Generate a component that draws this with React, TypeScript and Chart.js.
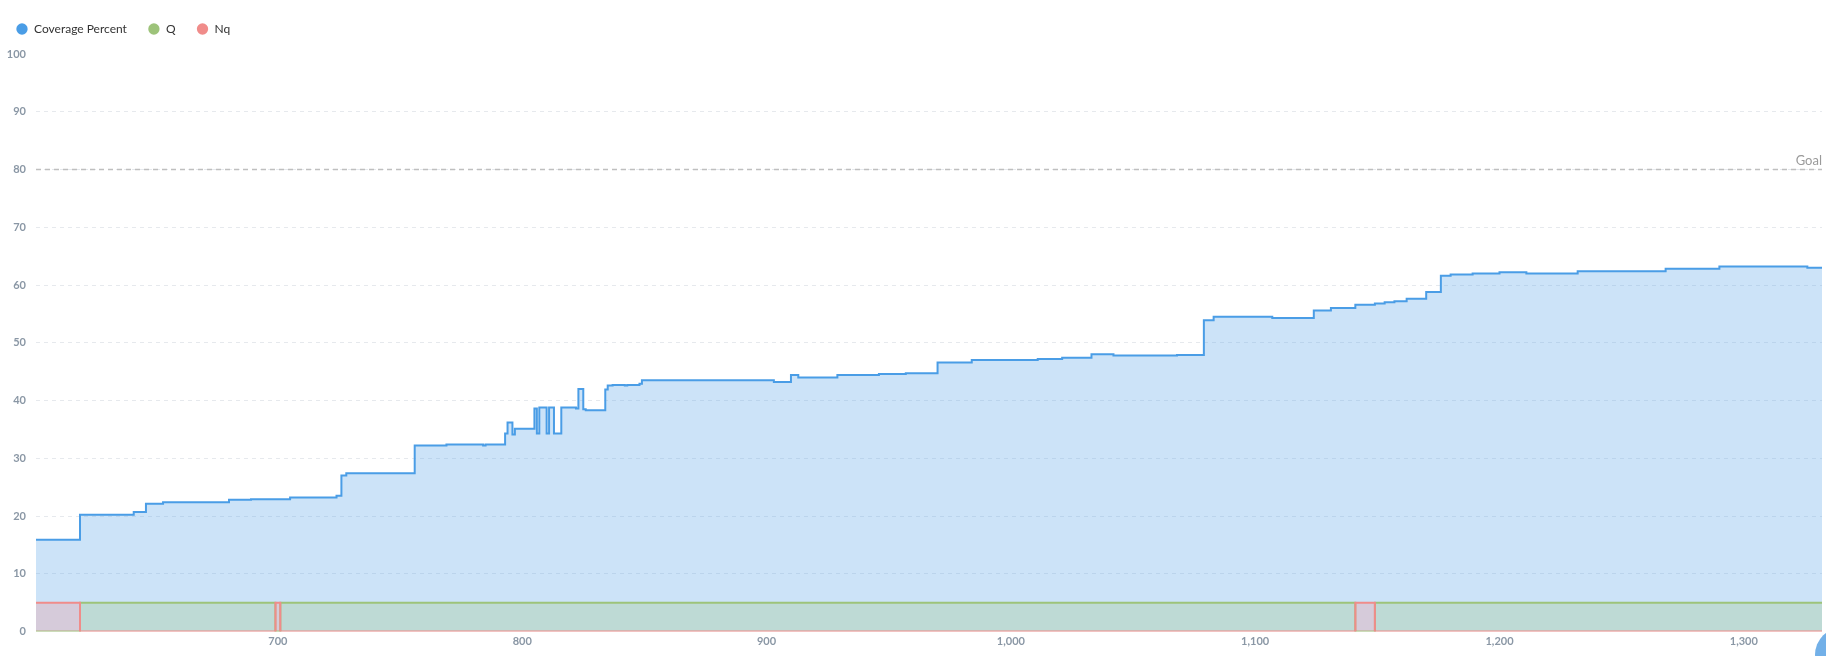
import React, { useEffect, useRef } from 'react';
import { Chart, registerables } from 'chart.js';

Chart.register(...registerables);

// Build numbers where the coverage value changes (stepped line)
const builds = [601, 619, 641, 646, 653, 680, 689, 705, 724, 726, 728, 756, 769, 784, 785, 793, 794, 796, 797, 805, 806, 807, 810, 811, 813, 816, 822, 823, 825, 826, 834, 835, 837, 842, 843, 848, 849, 903, 910, 913, 929, 946, 957, 970, 984, 1011, 1021, 1033, 1042, 1068, 1079, 1083, 1107, 1124, 1131, 1141, 1149, 1153, 1157, 1162, 1170, 1176, 1180, 1189, 1200, 1211, 1232, 1268, 1290, 1326, 1332];
const coverage = [15.9, 20.2, 20.7, 22.1, 22.4, 22.8, 22.9, 23.2, 23.5, 27.0, 27.4, 32.2, 32.4, 32.2, 32.4, 34.3, 36.2, 34.1, 35.1, 38.6, 34.3, 38.8, 34.3, 38.8, 34.3, 38.8, 38.6, 42.0, 38.5, 38.3, 41.9, 42.6, 42.7, 42.6, 42.7, 42.9, 43.5, 43.2, 44.4, 44.0, 44.4, 44.6, 44.7, 46.6, 47.0, 47.2, 47.4, 48.0, 47.8, 47.9, 53.9, 54.5, 54.3, 55.6, 56.0, 56.6, 56.8, 57.0, 57.2, 57.6, 58.8, 61.6, 61.8, 62.0, 62.2, 62.0, 62.4, 62.8, 63.2, 63.0, 63.0];

const statusBuilds = [601, 619, 699, 701, 1141, 1149, 1332];
const qValues = [0, 5, 0, 5, 0, 5, 5];
const nqValues = [5, 0, 5, 0, 5, 0, 0];

const xTicks = [700, 800, 900, 1000, 1100, 1200, 1300];
const xMin = 601;
const xMax = 1332;
const yMin = 0;
const yMax = 100;
const yStep = 10;
const goalValue = 80;
const goalLabel = 'Goal';

const seriesNames = ['Coverage Percent', 'Q', 'Nq'];

const toPoints = (xs: number[], ys: number[]) => xs.map((x, i) => ({ x, y: ys[i] }));

const goalPlugin = {
  id: 'goalLine',
  afterDatasetsDraw(chart: any) {
    const { ctx, chartArea, scales } = chart;
    const y = Math.round(scales.y.getPixelForValue(goalValue)) + 0.5;
    ctx.save();
    ctx.strokeStyle = '#bfbfbf';
    ctx.lineWidth = 1.5;
    ctx.setLineDash([5, 4]);
    ctx.beginPath();
    ctx.moveTo(chartArea.left, y);
    ctx.lineTo(chartArea.right, y);
    ctx.stroke();
    ctx.setLineDash([]);
    ctx.fillStyle = '#9a9a9a';
    ctx.font = '13px Lato';
    ctx.textAlign = 'right';
    ctx.textBaseline = 'bottom';
    ctx.fillText(goalLabel, chartArea.right, y - 2);
    ctx.restore();
  },
};

const legendHeightPlugin = {
  id: 'legendHeight',
  beforeInit(chart: any) {
    const legend = chart.legend;
    if (!legend) return;
    const orig = legend.fit;
    legend.fit = function () {
      orig.call(this);
      this.height = 52;
    };
  },
};

export default function App() {
  const ref = useRef<HTMLCanvasElement | null>(null);

  useEffect(() => {
    if (!ref.current) return;
    Chart.defaults.font.family = 'Lato';
    const tickColor = '#8a97a5';
    const tickFont = { size: 11, family: 'Lato', weight: 'bold' as const };
    const chart = new Chart(ref.current, {
      type: 'line',
      data: {
        datasets: [
          {
            label: seriesNames[0],
            data: toPoints(builds, coverage),
            stepped: true,
            borderColor: '#4a9de6',
            backgroundColor: 'rgba(100,170,235,0.33)',
            borderWidth: 2,
            pointRadius: 0,
            fill: 'origin',
            order: 3,
          },
          {
            label: seriesNames[1],
            data: toPoints(statusBuilds, qValues),
            stepped: true,
            borderColor: '#9dc37a',
            backgroundColor: 'rgba(155,195,121,0.28)',
            borderWidth: 2,
            pointRadius: 0,
            fill: 'origin',
            order: 2,
          },
          {
            label: seriesNames[2],
            data: toPoints(statusBuilds, nqValues),
            stepped: true,
            borderColor: '#f08c8a',
            backgroundColor: 'rgba(240,140,140,0.28)',
            borderWidth: 2,
            pointRadius: 0,
            fill: 'origin',
            order: 1,
          },
        ],
      },
      options: {
        responsive: false,
        animation: false,
        layout: { padding: { top: 2, left: -5, right: 4, bottom: 0 } },
        plugins: {
          tooltip: { enabled: false },
          legend: {
            position: 'top',
            align: 'start',
            labels: {
              usePointStyle: true,
              pointStyle: 'circle',
              boxWidth: 12,
              boxHeight: 8,
              padding: 21,
              color: '#333333',
              font: { size: 12, family: 'Lato' },
              sort: (a: any, b: any) => a.datasetIndex - b.datasetIndex,
              generateLabels(chart: any) {
                const items = Chart.defaults.plugins.legend.labels.generateLabels(chart);
                return items.map((it: any) => ({ ...it, fillStyle: it.strokeStyle, lineWidth: 0 }));
              },
            },
          },
        },
        scales: {
          x: {
            type: 'linear',
            min: xMin,
            max: xMax,
            grid: { display: false, drawTicks: false, tickLength: 0 },
            border: { display: false },
            ticks: {
              stepSize: 100,
              autoSkip: false,
              maxRotation: 0,
              padding: 3,
              color: tickColor,
              font: tickFont,
            },
            afterBuildTicks(axis: any) {
              axis.ticks = xTicks.map((v) => ({ value: v }));
            },
            afterFit(axis: any) {
              axis.height = 24.5;
            },
          },
          y: {
            min: yMin,
            max: yMax,
            border: { display: false, dash: [4, 4] },
            grid: {
              drawTicks: false,
              color: (c: any) => (c.tick && (c.tick.value === yMin || c.tick.value === yMax) ? 'rgba(0,0,0,0)' : '#e6e9ed'),
              lineWidth: 1,
            },
            ticks: {
              stepSize: yStep,
              padding: 10,
              color: tickColor,
              font: tickFont,
            },
            afterFit(axis: any) {
              axis.width = 41;
            },
          },
        },
      },
      plugins: [goalPlugin, legendHeightPlugin],
    } as any);
    return () => chart.destroy();
  }, []);

  return (
    <div style={{ position: 'fixed', left: 0, top: 0, width: 1826, height: 656, background: '#fff', overflow: 'hidden' }}>
      <canvas ref={ref} width={1826} height={656} style={{ display: 'block' }} />
      <div
        style={{
          position: 'absolute',
          left: 1815,
          top: 627,
          width: 56,
          height: 56,
          borderRadius: '50%',
          background: '#72b0e8',
        }}
      />
    </div>
  );
}
